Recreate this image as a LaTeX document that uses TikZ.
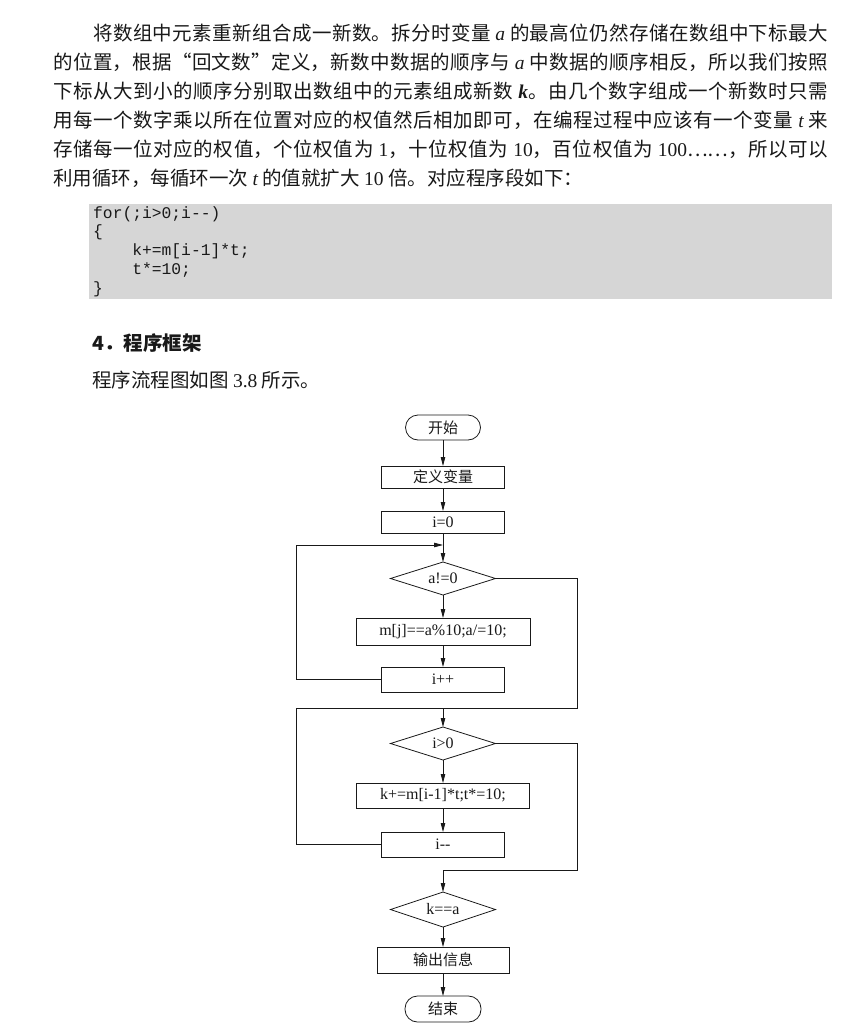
\documentclass[tikz,border=0pt]{standalone}
\usepackage{fontspec}
\setmainfont{Liberation Serif}
\setmonofont{Liberation Mono}
\newfontfamily\cjk{Noto Sans CJK SC}
\XeTeXlinebreaklocale "zh"
\XeTeXlinebreakskip=0pt plus 2pt minus 0.3pt
\usetikzlibrary{shapes.geometric,arrows.meta,positioning}
\definecolor{ink}{RGB}{25,25,25}
\definecolor{codegray}{RGB}{214,214,214}
\newcommand\vi[1]{{\rmfamily\itshape #1}}
\newcommand\nm[1]{{\rmfamily #1}}
\newcommand\zh[1]{{\cjk\fontsize{15}{18}\selectfont #1}}

\begin{document}
\begin{tikzpicture}[x=1pt, y=-1pt,
  node distance=23pt,
  txt/.style={font=\cjk\fontsize{19.5}{29}\selectfont, text=ink, inner sep=0pt, anchor=base west},
  fullline/.style={txt, text width=775pt, align=justify,
    execute at begin node={\parfillskip=0pt\relax}},
  code/.style={font=\ttfamily\fontsize{16.3}{18.8}\selectfont, text=ink,
    inner sep=0pt, anchor=base west, align=left},
  box/.style={draw=ink, line width=0.8pt, inner sep=0pt, outer sep=0pt, minimum width=123pt,
    minimum height=22pt, font=\fontsize{16}{18}\selectfont, text=ink},
  term/.style={box, rounded corners=12.5pt, minimum width=75pt, minimum height=25pt},
  cond/.style={box, diamond, aspect=3, minimum width=105pt, minimum height=33pt},
  arr/.style={-{Triangle[length=9pt,width=4.5pt]}, draw=ink, line width=0.8pt},
  wire/.style={draw=ink, line width=0.8pt},
]
  \fill[white] (0,0) rectangle (862,1033);
  \useasboundingbox (0,0) rectangle (862,1033);

  % text above the chart
  \node[fullline, text width=735pt] (l1) at (93,40.5) {将数组中元素重新组合成一新数。拆分时变量 \vi{a} 的最高位仍然存储在数组中下标最大};
  \node[fullline] (l2) at (53,69.5) {的位置，根据“回文数”定义，新数中数据的顺序与 \vi{a} 中数据的顺序相反，所以我们按照};
  \node[fullline] (l3) at (53,98.5) {下标从大到小的顺序分别取出数组中的元素组成新数 {\rmfamily\bfseries\itshape k}。由几个数字组成一个新数时只需};
  \node[fullline] (l4) at (53,127.5) {用每一个数字乘以所在位置对应的权值然后相加即可，在编程过程中应该有一个变量 \vi{t} 来};
  \node[fullline] (l5) at (53,156.5) {存储每一位对应的权值，个位权值为 \nm{1}，十位权值为 \nm{10}，百位权值为 \nm{100}……，所以可以};
  \node[txt] (l6) at (53,185.5) {利用循环，每循环一次 \vi{t} 的值就扩大 \nm{10} 倍。对应程序段如下：};

  \fill[codegray] (89,204) rectangle (832,299);
  \node[code] (prog) at (93,293.2) {for(;i>0;i--)\\\{\\\hphantom{xxxx}k+=m[i-1]*t;\\\hphantom{xxxx}t*=10;\\\}};

  \node[txt, font=\cjk\bfseries\fontsize{19.5}{29}\selectfont] (head) at (92,350) {4．程序框架};
  \node[txt] (figref) at (92,387) {程序流程图如图 \nm{3.8} 所示。};

  % flow chart
  \node[term] (start) at (443,427.5) {\zh{开始}};
  \node[box, below=26pt of start] (def) {\zh{定义变量}};
  \node[box, below=of def] (init) {i=0};
  \node[cond, below=29pt of init] (d1) {a!=0};
  \node[box, below=of d1, minimum width=174pt, minimum height=27pt] (mod) {m[j]==a\%10;a/=10;};
  \node[box, below=22pt of mod, minimum height=25pt] (inc) {i++};
  \node[cond, below=35pt of inc] (d2) {i>0};
  \node[box, below=of d2, minimum width=173pt, minimum height=25pt] (add) {k+=m[i-1]*t;t*=10;};
  \node[box, below=24pt of add, minimum height=25pt] (dec) {i-{}-};
  \node[cond, below=35pt of dec, minimum height=35pt] (d3) {k==a};
  \node[box, below=20pt of d3, minimum width=132pt, minimum height=26pt] (out) {\zh{输出信息}};
  \node[term, below=of out, minimum width=76pt, minimum height=26pt] (stop) {\zh{结束}};

  \draw[arr] (start) -- (def);
  \draw[arr] (def) -- (init);
  \draw[arr] (init) -- (d1);
  \draw[arr] (d1) -- (mod);
  \draw[arr] (mod) -- (inc);
  \coordinate (j1) at (init.south |- 0,545);
  \draw[arr] (inc.west) -| (296,545) -- (j1);

  \coordinate (j2) at (d2.north |- 0,708);
  \draw[wire] (d1.east) -| (577,708) -- (j2);
  \draw[wire] (dec.west) -| (296,708) -- (j2);
  \draw[arr] (j2) -- (d2);
  \draw[arr] (d2) -- (add);
  \draw[arr] (add) -- (dec);
  \draw[arr] (d2.east) -| (577,870) -| (d3.north);
  \draw[arr] (d3) -- (out);
  \draw[arr] (out) -- (stop);
\end{tikzpicture}
\end{document}
